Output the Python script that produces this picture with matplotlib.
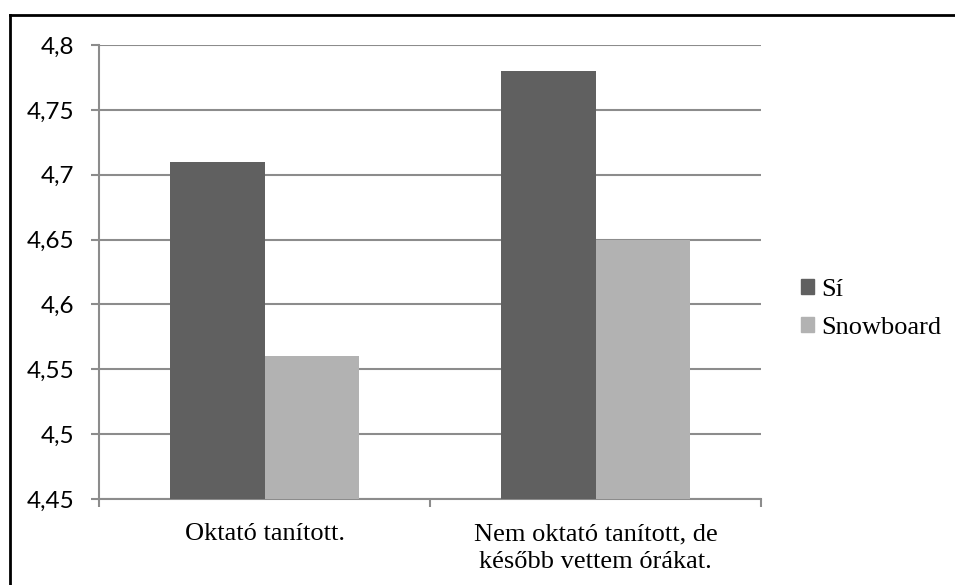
import matplotlib.pyplot as plt
import numpy as np
from matplotlib.lines import Line2D
from matplotlib.patches import Patch

categories = ["Oktató tanított.", "Nem oktató tanított, de\nkésőbb vettem órákat."]
series_names = ["Sí", "Snowboard"]
si_values = [4.71, 4.78]
snowboard_values = [4.56, 4.65]
y_ticks = [4.45, 4.5, 4.55, 4.6, 4.65, 4.7, 4.75, 4.8]
y_tick_labels = ["4,45", "4,5", "4,55", "4,6", "4,65", "4,7", "4,75", "4,8"]

dark = "#606060"
light = "#b2b2b2"
grid_col = "#8c8c8c"

fig = plt.figure(figsize=(9.55, 5.85), dpi=100)
ax = fig.add_axes([99 / 955, 1 - 499 / 585, 662 / 955, 454 / 585])

x = np.arange(len(categories))
w = 0.284
ax.bar(x - w / 2, np.array(si_values) - 4.45, w, bottom=4.45, color=dark, zorder=3)
ax.bar(x + w / 2, np.array(snowboard_values) - 4.45, w, bottom=4.45, color=light, zorder=3)

ax.set_xlim(-0.5, 1.5)
ax.set_ylim(4.45, 4.8)
ax.set_yticks(y_ticks)
ax.set_yticklabels(y_tick_labels, fontfamily="Lato", fontsize=17.5)
ax.yaxis.grid(True, color=grid_col, linewidth=1.5, zorder=0)
ax.set_xticks(x)
ax.set_xticklabels(categories, fontfamily="Liberation Serif", fontsize=19,
                   linespacing=1.32)
ax.set_xticks([-0.5, 0.5, 1.5], minor=True)
ax.tick_params(axis="x", which="major", length=0, pad=17.5)
ax.tick_params(axis="x", which="minor", length=6, color=grid_col, width=1.5)
ax.tick_params(axis="y", length=6, color=grid_col, width=1.5, pad=12)

for side in ["top", "right"]:
    ax.spines[side].set_visible(False)
for side in ["left", "bottom"]:
    ax.spines[side].set_color(grid_col)
    ax.spines[side].set_linewidth(1.5)

handles = [Patch(color=dark), Patch(color=light)]
leg = fig.legend(handles, series_names, loc="center left",
                 bbox_to_anchor=(801 / 955, 1 - 309 / 585), frameon=False,
                 prop={"family": "Liberation Serif", "size": 19},
                 borderpad=0, borderaxespad=0,
                 handlelength=0.5, handleheight=0.5, handletextpad=0.25,
                 labelspacing=0.6)

# outer frame of the chart area
fig.add_artist(Line2D([9.5 / 955, 9.5 / 955], [0, 1 - 15 / 585], color="black",
                      linewidth=2, transform=fig.transFigure))
fig.add_artist(Line2D([9.5 / 955, 1], [1 - 15 / 585, 1 - 15 / 585], color="black",
                      linewidth=2, transform=fig.transFigure))

fig.savefig("out.png", dpi=100)
